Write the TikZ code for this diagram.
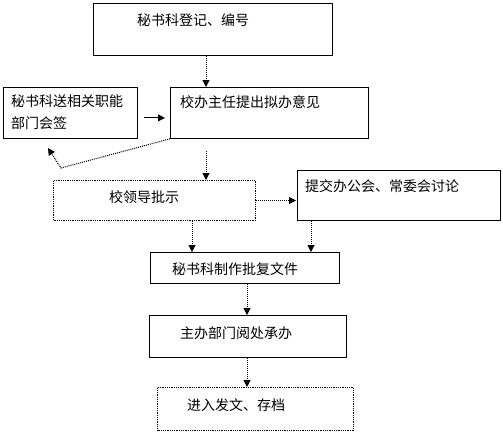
\documentclass[tikz,border=0pt]{standalone}
\usepackage{fontspec}
\newfontfamily\cjk{Noto Sans CJK SC}
\usetikzlibrary{positioning,arrows.meta}

\begin{document}
\begin{tikzpicture}[x=1pt,y=-1pt,>={Triangle[length=7pt,width=7pt]},
    box/.style={draw,line width=0.8pt,anchor=north west,inner sep=0pt},
    dotbox/.style={box,densely dotted,line width=1pt},
    txt/.style={anchor=west,inner sep=0pt,align=left,
      font=\cjk\fontsize{14}{22}\selectfont},
    link/.style={densely dotted,line width=1pt}]
  \useasboundingbox (0,0) rectangle (503,432);

  % boxes
  \node[box,minimum width=239pt,minimum height=52pt] (reg) at (93,3) {};
  \node[box,minimum width=134pt,minimum height=51pt] (sign) at (3,87) {};
  \node[box,minimum width=198pt,minimum height=51pt] (dir) at (170,87) {};
  \node[dotbox,minimum width=202pt,minimum height=40pt] (lead) at (53,180) {};
  \node[box,minimum width=203pt,minimum height=50pt] (meet) at (297,170) {};
  \node[box,minimum width=189pt,minimum height=31pt] (doc) at (150,252) {};
  \node[box,minimum width=197pt,minimum height=42pt] (dept) at (149,315) {};
  \node[dotbox,minimum width=196pt,minimum height=43pt] (arch) at (157,387) {};

  % texts
  \node[txt] (regt) at (137,20) {秘书科登记、编号};
  \node[txt] (signt) at (11,112) {秘书科送相关职能\\部门会签};
  \node[txt] (dirt) at (180,102) {校办主任提出拟办意见};
  \node[txt] (leadt) at (109,197) {校领导批示};
  \node[txt] (meett) at (305,186) {提交办公会、常委会讨论};
  \node[txt] (doct) at (172,269) {秘书科制作批复文件};
  \node[txt] (deptt) at (180,333) {主办部门阅处承办};
  \node[txt] (archt) at (187,405) {进入发文、存档};

  \coordinate (bend) at (61,168);
  \coordinate (back) at (48,148);

  % connectors
  \begin{scope}[->]
    \draw[link] ([xshift=113pt]reg.south west) -- ([xshift=113pt]reg.south west |- dir.north);
    \draw[line width=0.9pt,shorten <=6pt,shorten >=5pt] ([yshift=-5pt]sign.east) -- ([yshift=-5pt]sign.east -| dir.west);
    \draw[link] (dir.south west) -- (bend) -- (back);
    \draw[link,shorten <=12pt] ([xshift=36pt]dir.south west) -- ([xshift=36pt]dir.south west |- lead.north);
    \draw[link,shorten >=1pt] (lead.east) -- (lead.east -| meet.west);
    \draw[link] ([xshift=139pt]lead.south west) -- ([xshift=139pt]lead.south west |- doc.north);
    \draw[link] ([xshift=14pt]meet.south west) -- ([xshift=14pt]meet.south west |- doc.north);
    \draw[link] ([xshift=97pt]doc.south west) -- ([xshift=97pt]doc.south west |- dept.north);
    \draw[link] ([xshift=98pt]dept.south west) -- ([xshift=98pt]dept.south west |- arch.north);
  \end{scope}
\end{tikzpicture}
\end{document}
